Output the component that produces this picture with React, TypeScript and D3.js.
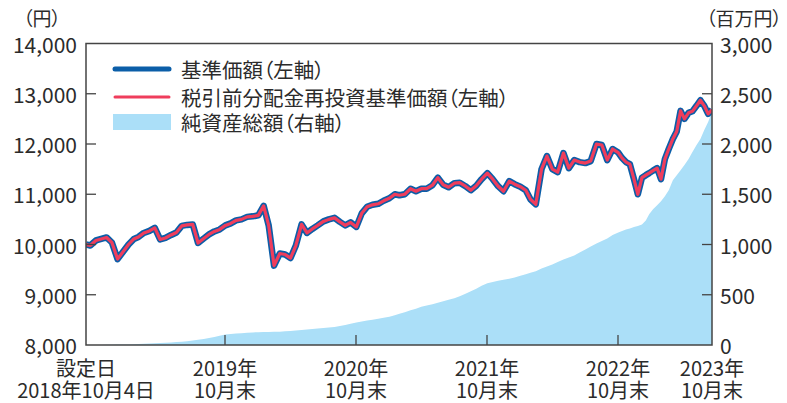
import * as d3 from 'd3';

// 基準価額（円）— 半月ごとのサンプル（設定日 2018/10/4 〜 2023/10/31）
const navValues = [
    // 2018/10 - 2019/10
    10000, 9980, 10080, 10110, 10140, 10040, 9710, 9850, 10000, 10110, 10150, 10230, 10270, 10330,
    10100, 10130, 10190, 10240, 10370, 10390, 10400, 10030, 10120, 10200, 10260, 10300,
    // 2019/11 - 2020/10
    10380, 10420, 10480, 10500, 10550, 10560, 10580, 10770, 10380, 9580, 9820, 9800, 9730, 9980,
    10400, 10230, 10310, 10380, 10460, 10500, 10530, 10450, 10380, 10440,
    // 2020/11 - 2021/10
    10350, 10620, 10750, 10790, 10810, 10870, 10920, 11000, 10980, 11000, 11110, 11060, 11110,
    11110, 11180, 11330, 11190, 11140, 11220, 11230, 11160, 11080, 11170, 11300,
    // 2021/11 - 2022/10
    11420, 11300, 11160, 11060, 11260, 11200, 11150, 11080, 10900, 10800, 11500, 11760, 11500,
    11440, 11820, 11520, 11680, 11640, 11620, 11660, 12000, 11980, 11680, 11900,
    // 2022/11 - 2023/10
    11830, 11720, 11640, 11600, 11300, 11000, 11330, 11380, 11420, 11470, 11520, 11300, 11700,
    11900, 12100, 12250, 12660, 12500, 12620, 12650, 12760, 12870, 12760, 12600, 12680,
];

// 税引前分配金再投資基準価額（円）— 分配実績なしのため基準価額と同値
const reinvestValues = navValues.slice();

// 純資産総額（百万円）
const aumValues = [
    0, 0, 1, 1, 2, 3, 4, 5, 6, 8, 10, 12, 14, 17, 19, 22, 25, 29, 33, 38, 45, 52, 60, 70, 80, 92,
    105, 110, 115, 118, 122, 125, 128, 130, 130, 132, 133, 136, 140, 145, 150, 155, 160, 165, 170,
    175, 180, 190, 200, 212,
    225, 235, 245, 252, 262, 270, 280, 295, 310, 325, 345, 360, 380, 392, 405, 420, 435, 450, 465,
    485, 510, 535, 560, 590,
    615, 628, 640, 650, 660, 672, 690, 705, 720, 735, 760, 780, 800, 825, 850, 870, 890, 920, 950,
    980, 1010, 1035, 1060, 1095,
    1120, 1135, 1150, 1160, 1175, 1185, 1200, 1240, 1300, 1350, 1390, 1430, 1480, 1540, 1640, 1690,
    1740, 1790, 1850, 1920, 1990, 2050, 2140, 2220, 2320,
];

const tickDates = [
    new Date(2018, 9, 4),
    new Date(2019, 9, 31),
    new Date(2020, 9, 31),
    new Date(2021, 9, 31),
    new Date(2022, 9, 31),
    new Date(2023, 9, 31),
];
const tickLine1 = ['設定日', '2019年', '2020年', '2021年', '2022年', '2023年'];
const tickLine2 = ['2018年10月4日', '10月末', '10月末', '10月末', '10月末', '10月末'];

const leftTicks = [8000, 9000, 10000, 11000, 12000, 13000, 14000];
const rightTicks = [0, 500, 1000, 1500, 2000, 2500, 3000];

// sample dates: 設定日, 10/16, then the 1st and 16th of each month, then 2023/10/31
function buildDates() {
    const out = [new Date(2018, 9, 4), new Date(2018, 9, 16)];
    for (let i = 0; i < 60; i++) {
        out.push(new Date(2018, 10 + i, 1));
        out.push(new Date(2018, 10 + i, 16));
    }
    out.push(new Date(2023, 9, 31));
    return out;
}
const sampleDates = buildDates();

const width = 787;
const height = 403;
const margins = { top: 43.5, bottom: 58, left: 86, right: 75 };
const font = "'Noto Sans CJK JP', 'Noto Sans', sans-serif";
const textColor = '#2b2b2b';
const axisColor = '#444';
const blue = '#0b5ea8';
const red = '#ef3d5c';
const sky = '#abdff8';

export default function App() {
    const plotBottom = height - margins.bottom;
    const plotRight = width - margins.right;

    // x positions of 2019-2022 ticks are evenly spaced; final label sits at the right edge
    const xScale = d3
        .scaleTime()
        .domain(tickDates)
        .range([margins.left, 225, 356, 487, 618, plotRight]);

    const yNav = d3.scaleLinear().domain([8000, 14000]).range([plotBottom, margins.top]);
    const yAum = d3.scaleLinear().domain([0, 3000]).range([plotBottom, margins.top]);

    const navLine = d3
        .line<number>()
        .x((_, i) => xScale(sampleDates[i]))
        .y((d) => yNav(d));

    const aumArea = d3
        .area<number>()
        .x((_, i) => xScale(sampleDates[i]))
        .y0(yAum(0))
        .y1((d) => yAum(d));

    const fmt = d3.format(',');
    const legendStyle = { fontFeatureSettings: "'palt'" };

    return (
        <svg
            width={width}
            height={height}
            viewBox={`0 0 ${width} ${height}`}
            style={{ position: 'absolute', left: 0, top: 0, background: '#fff' }}
            fontFamily={font}
        >
            <defs>
                <clipPath id='plot'>
                    <rect x={margins.left} y={margins.top} width={plotRight - margins.left} height={plotBottom - margins.top} />
                </clipPath>
            </defs>

            <g clipPath='url(#plot)'>
                <path d={aumArea(aumValues) ?? ''} fill={sky} />
                <path d={navLine(navValues) ?? ''} fill='none' stroke={blue} strokeWidth={6.5} strokeLinejoin='round' />
                <path d={navLine(reinvestValues) ?? ''} fill='none' stroke={red} strokeWidth={3.2} strokeLinejoin='round' />
            </g>

            {/* frame */}
            <rect
                x={margins.left}
                y={margins.top}
                width={plotRight - margins.left}
                height={plotBottom - margins.top}
                fill='none'
                stroke={axisColor}
                strokeWidth={1.5}
            />

            {/* left axis */}
            {leftTicks.map((t) => (
                <g key={t} transform={`translate(0, ${yNav(t)})`}>
                    {t > 8000 && t < 14000 && <line x1={margins.left} x2={margins.left + 10} stroke={axisColor} strokeWidth={1.3} />}
                    <text x={margins.left - 9} textAnchor='end' dominantBaseline='central' fontSize={21} fill={textColor}>
                        {fmt(t)}
                    </text>
                </g>
            ))}
            <text x={42} y={17} textAnchor='middle' dominantBaseline='central' fontSize={19} fill={textColor} style={legendStyle}>
                （円）
            </text>

            {/* right axis */}
            {rightTicks.map((t) => (
                <g key={t} transform={`translate(0, ${yAum(t)})`}>
                    {t > 0 && t < 3000 && <line x1={plotRight - 10} x2={plotRight} stroke={axisColor} strokeWidth={1.3} />}
                    <text x={plotRight + 8} textAnchor='start' dominantBaseline='central' fontSize={21} fill={textColor}>
                        {fmt(t)}
                    </text>
                </g>
            ))}
            <text x={744} y={17} textAnchor='middle' dominantBaseline='central' fontSize={19} fill={textColor} style={legendStyle}>
                （百万円）
            </text>

            {/* bottom axis */}
            {tickDates.map((d, i) => (
                <g key={i} transform={`translate(${xScale(d)}, 0)`}>
                    {i > 0 && i < tickDates.length - 1 && <line y1={plotBottom - 10} y2={plotBottom} stroke={axisColor} strokeWidth={1.3} />}
                    <text y={367} textAnchor='middle' dominantBaseline='central' fontSize={20} fill={textColor}>
                        {tickLine1[i]}
                    </text>
                    <text y={389} textAnchor='middle' dominantBaseline='central' fontSize={20} fill={textColor}>
                        {tickLine2[i]}
                    </text>
                </g>
            ))}

            {/* legend */}
            <line x1={115} x2={169} y1={69} y2={69} stroke={blue} strokeWidth={5} strokeLinecap='round' />
            <text x={181} y={69} dominantBaseline='central' fontSize={20.5} fill={textColor} style={legendStyle}>
                基準価額（左軸）
            </text>
            <line x1={115} x2={169} y1={97} y2={97} stroke={red} strokeWidth={3} strokeLinecap='round' />
            <text x={181} y={97} dominantBaseline='central' fontSize={20.5} fill={textColor} style={legendStyle}>
                税引前分配金再投資基準価額（左軸）
            </text>
            <rect x={113} y={114} width={58} height={16} fill={sky} />
            <text x={181} y={122} dominantBaseline='central' fontSize={20.5} fill={textColor} style={legendStyle}>
                純資産総額（右軸）
            </text>
        </svg>
    );
}
